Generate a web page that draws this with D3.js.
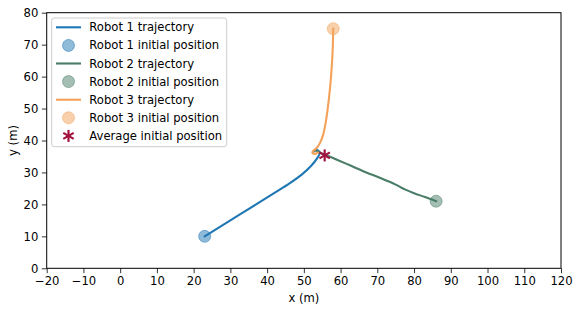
<!DOCTYPE html>
<html><head><meta charset="utf-8">
<script src="https://cdn.jsdelivr.net/npm/d3@7"></script>
<style>body{margin:0;background:#fff;} text{font-family:"DejaVu Sans",sans-serif;}</style>
</head><body><svg id="c" width="581" height="312"></svg>
<script>
const xTicks = [-20,-10,0,10,20,30,40,50,60,70,80,90,100,110,120];
const yTicks = [0,10,20,30,40,50,60,70,80];
const robot1 = [[23,10],[30,15],[37,20],[42,23.6],[46,26.5],[49.5,29.4],[52,32.1],[53.6,34.4],[54.3,36],[54,36.8],[53.3,37],[52.7,36.6]];
const robot2 = [[86,21],[83,22.3],[80,23.5],[77.5,24.7],[75,26.2],[71,28.2],[67,30],[63,32],[59,34],[56,35.5],[54.2,36.3],[53.2,36.9],[52.6,36.6]];
const robot3 = [[58,75],[57.9,70],[57.7,65],[57.4,60],[57,55],[56.5,50],[56,46],[55.3,42],[54.5,39.5],[53.6,37.8],[52.7,36.9],[52.3,36.2],[53,35.8],[53.8,36.2]];
const initials = [[23,10],[86,21],[58,75]];
const avg = [55.67,35.33];
const colors = ["#1f77b4","#4a7d68","#f4a259"];
const labels = ["Robot 1 trajectory","Robot 1 initial position","Robot 2 trajectory","Robot 2 initial position","Robot 3 trajectory","Robot 3 initial position","Average initial position"];
const starColor = "#a3123f";
const FS = 11.6;

const svg = d3.select("#c");
const x = d3.scaleLinear().domain([-20,120]).range([46.7,561]);
const y = d3.scaleLinear().domain([0,80]).range([268.3,12.7]);

const line = d3.line().x(d=>x(d[0])).y(d=>y(d[1])).curve(d3.curveCatmullRom);
[robot1,robot2,robot3].forEach((r,i)=>{
  svg.append("path").attr("d",line(r)).attr("fill","none").attr("stroke",colors[i]).attr("stroke-width",2.1).attr("stroke-linecap","square");
  svg.append("circle").attr("cx",x(initials[i][0])).attr("cy",y(initials[i][1])).attr("r",6).attr("fill",colors[i]).attr("fill-opacity",0.5).attr("stroke",colors[i]).attr("stroke-opacity",0.5).attr("stroke-width",1);
});
function star(g,cx,cy,s,c){
  for(let k=0;k<3;k++){
    const a=Math.PI/2+k*Math.PI/3;
    g.append("line").attr("x1",cx-s*Math.cos(a)).attr("y1",cy-s*Math.sin(a)).attr("x2",cx+s*Math.cos(a)).attr("y2",cy+s*Math.sin(a)).attr("stroke",c).attr("stroke-width",2.2);
  }
}
star(svg,x(avg[0]),y(avg[1]),6,starColor);

const xa = svg.append("g").attr("transform","translate(0,268.3)").call(d3.axisBottom(x).tickValues(xTicks).tickSize(4.9).tickPadding(3.5).tickFormat(d=>d<0?"\u2212"+(-d):d));
const ya = svg.append("g").attr("transform","translate(46.7,0)").call(d3.axisLeft(y).tickValues(yTicks).tickSize(4.9).tickPadding(3.5));
[xa,ya].forEach(a=>{a.selectAll("text").attr("font-size",FS).attr("fill","#000").attr("font-family","DejaVu Sans");a.selectAll("line").attr("stroke","#000").attr("stroke-width",0.8);a.select(".domain").remove();});
svg.append("rect").attr("x",46.7).attr("y",12.7).attr("width",561-46.7).attr("height",268.3-12.7).attr("fill","none").attr("stroke","#000").attr("stroke-width",1);

svg.append("text").attr("x",(46.7+561)/2).attr("y",302).attr("text-anchor","middle").attr("font-size",FS).text("x (m)");
svg.append("text").attr("transform","translate(17,140.5) rotate(-90)").attr("text-anchor","middle").attr("font-size",FS).text("y (m)");

const lg = svg.append("g");
lg.append("rect").attr("x",51.7).attr("y",18).attr("width",175).attr("height",128.7).attr("rx",2.5).attr("fill","#fff").attr("fill-opacity",0.8).attr("stroke","#ccc").attr("stroke-width",1);
labels.forEach((t,i)=>{
  const yy = 27.3 + i*18.1;
  if(i<6){
    const c = colors[Math.floor(i/2)];
    if(i%2===0) lg.append("line").attr("x1",56).attr("x2",81).attr("y1",yy).attr("y2",yy).attr("stroke",c).attr("stroke-width",2.1);
    else lg.append("circle").attr("cx",68.5).attr("cy",yy).attr("r",6).attr("fill",c).attr("fill-opacity",0.5).attr("stroke",c).attr("stroke-opacity",0.5).attr("stroke-width",1);
  } else star(lg,68.5,yy,6,starColor);
  lg.append("text").attr("x",89.3).attr("y",yy).attr("dy","0.35em").attr("font-size",FS).text(t);
});
</script></body></html>
